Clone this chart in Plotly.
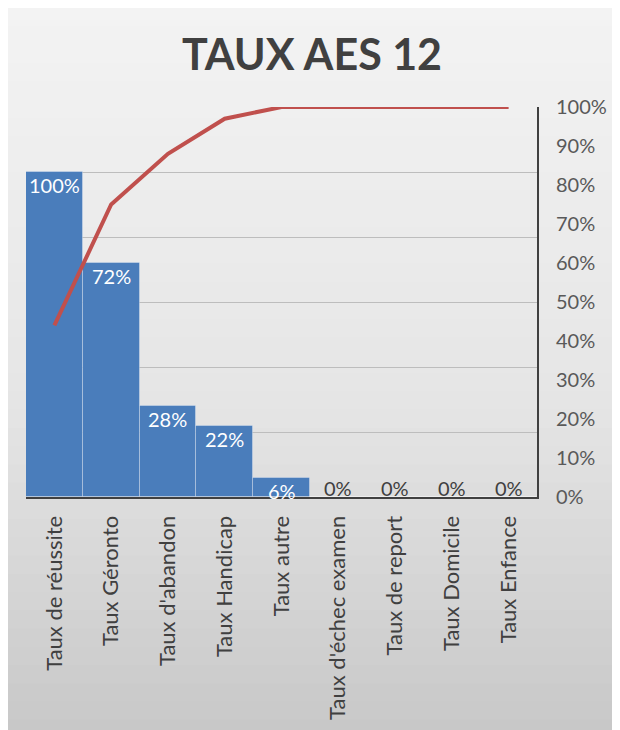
import plotly.graph_objects as go

categories = ["Taux de réussite", "Taux Géronto", "Taux d'abandon", "Taux Handicap",
              "Taux autre", "Taux d'échec examen", "Taux de report", "Taux Domicile", "Taux Enfance"]
rates = [1.00, 0.72, 0.28, 0.22, 0.06, 0.00, 0.00, 0.00, 0.00]
rate_labels = ["100%", "72%", "28%", "22%", "6%", "0%", "0%", "0%", "0%"]
cumulative = [0.44, 0.75, 0.88, 0.97, 1.00, 1.00, 1.00, 1.00, 1.00]
right_ticks = [0, 0.1, 0.2, 0.3, 0.4, 0.5, 0.6, 0.7, 0.8, 0.9, 1.0]

W, H = 620, 730
L, R, T, B = 18, 91, 99, 241
pw, ph = W - L - R, H - T - B

FONT = "Lato"

fig = go.Figure()
fig.add_trace(go.Bar(
    x=categories, y=rates, marker=dict(color="#4a7dbb", line=dict(color="rgba(255,255,255,0.3)", width=1)),
    hoverinfo="skip", showlegend=False))
fig.add_trace(go.Scatter(
    x=categories, y=cumulative, mode="lines", yaxis="y2",
    line=dict(color="#c0504d", width=4), showlegend=False, hoverinfo="skip"))

annotations = []
for cat, v, lab in zip(categories, rates, rate_labels):
    annotations.append(dict(
        x=cat, y=v, xref="x", yref="y", text=lab, showarrow=False,
        yanchor="middle", yshift=(-13 if v > 0 else 9),
        font=dict(family=FONT, size=20, color=("#ffffff" if v > 0 else "#404040"))))

# background gradient stripes (figure coords -> paper coords)
shapes = []
top_c, mid_c, bot_c = (243, 243, 243), (229, 229, 229), (200, 200, 200)
n = 40
for i in range(n):
    a = H * i / n
    b = H * (i + 1) / n + 1
    t = i / (n - 1)
    if t < 0.55:
        u = t / 0.55
        c = [round(top_c[k] + (mid_c[k] - top_c[k]) * u) for k in range(3)]
    else:
        u = (t - 0.55) / 0.45
        c = [round(mid_c[k] + (bot_c[k] - mid_c[k]) * u) for k in range(3)]
    shapes.append(dict(type="rect", xref="paper", yref="paper", layer="below",
                       x0=-L / pw, x1=(W - L) / pw,
                       y0=(H - B - b) / ph, y1=(H - B - a) / ph,
                       fillcolor="rgb(%d,%d,%d)" % tuple(c), line=dict(width=0)))

fig.update_layout(
    width=W, height=H, margin=dict(l=L, r=R, t=T, b=B),
    paper_bgcolor="white", plot_bgcolor="rgba(0,0,0,0)",
    bargap=0.0, shapes=shapes, annotations=annotations,
    title=dict(text="<b>TAUX AES 12</b>", x=304 / W, xanchor="center", y=1 - 47 / H, yanchor="middle",
               font=dict(family=FONT, size=43, color="#404040")),
    xaxis=dict(tickangle=-90, tickfont=dict(family=FONT, size=22, color="#404040"),
               showline=True, linecolor="#404040", linewidth=2, ticks="", showgrid=False,
               ticklabelstandoff=8, range=[-0.5, 8.5]),
    yaxis=dict(range=[0, 1.2005], tickvals=[0.2, 0.4, 0.6, 0.8, 1.0, 1.2], showticklabels=False, showgrid=True,
               gridcolor="#bdbdbd", gridwidth=1, zeroline=False, showline=False, ticks=""),
    yaxis2=dict(range=[0, 1], overlaying="y", side="right", tickvals=right_ticks,
                tickformat=".0%", showgrid=False, zeroline=False, showline=True,
                linecolor="#404040", linewidth=2, ticks="", ticklabelstandoff=13,
                tickfont=dict(family=FONT, size=20, color="#595959")),
)

fig.write_html("out.html", default_width="620px", default_height="730px",
               post_script="document.documentElement.style.overflow='hidden';"
                           "document.body.style.overflow='hidden';")
